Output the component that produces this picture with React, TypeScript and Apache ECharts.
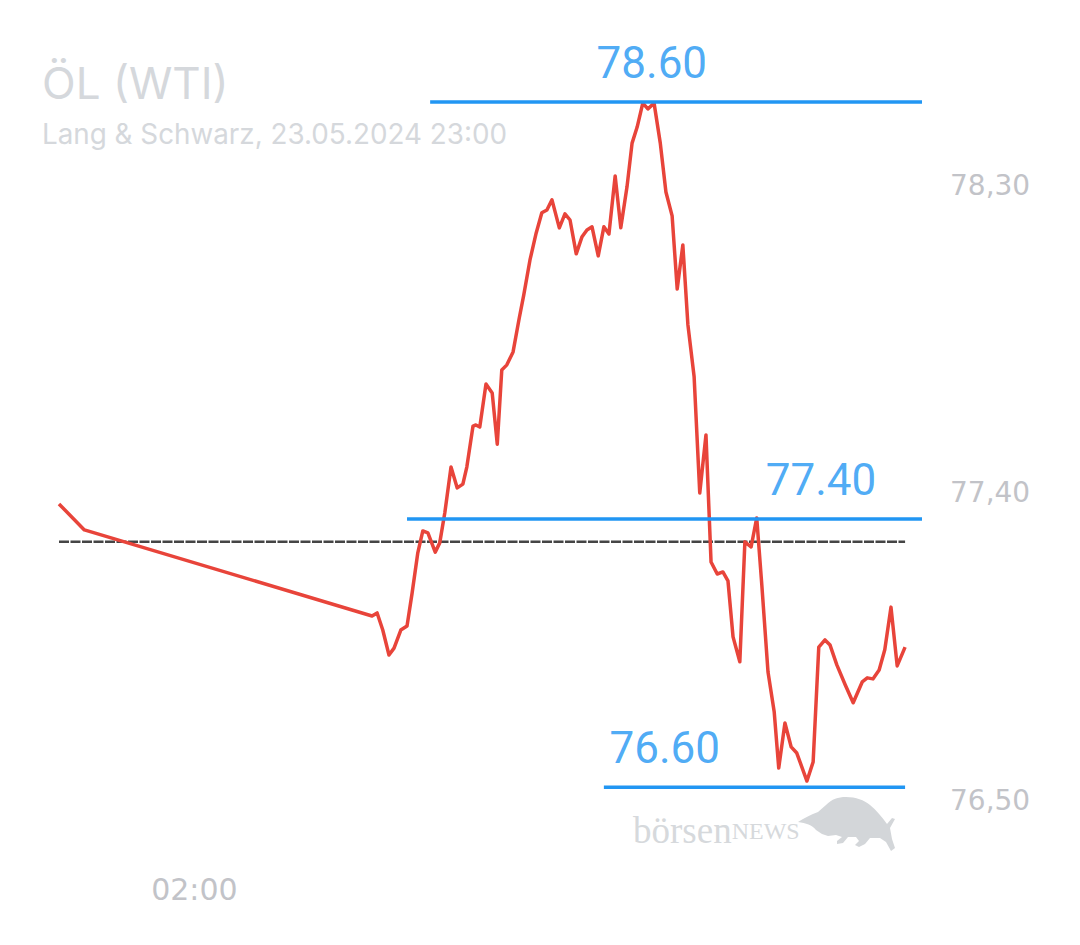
import React, { useEffect, useRef } from 'react';
import * as echarts from 'echarts';

// ---- data ----
const prevDayTimes = ['22:00', '22:45']; // 22.05.2024
const prevDayValues = [77.444, 77.368];

const sessionTimes = [ // 23.05.2024
  '07:15', '07:24', '07:34', '07:45', '07:54', '08:06', '08:17', '08:26', '08:36', '08:45',
  '08:54', '09:07', '09:15', '09:24', '09:35', '09:46', '09:56', '10:03', '10:14', '10:19',
  '10:26', '10:37', '10:48', '10:57', '11:05', '11:14', '11:25', '11:36', '11:44', '11:55',
  '12:06', '12:16', '12:25', '12:34', '12:47', '12:57', '13:06', '13:17', '13:27', '13:36',
  '13:45', '13:56', '14:06', '14:15', '14:26', '14:36', '14:47', '14:56', '15:05', '15:15',
  '15:24', '15:35', '15:46', '15:56', '16:07', '16:16', '16:26', '16:35', '16:46', '16:56',
  '17:07', '17:16', '17:27', '17:37', '17:46', '17:55', '18:07', '18:16', '18:27', '18:37',
  '18:46', '18:57', '19:08', '19:16', '19:27', '19:38', '19:48', '20:06', '20:17', '20:27',
  '20:38', '20:47', '20:59', '21:14', '21:28', '21:44', '21:53', '22:03', '22:14', '22:24',
  '22:35', '22:46', '23:00',
];
const sessionValues = [
  77.116, 77.125, 77.075, 77.002, 77.022, 77.075, 77.087, 77.183, 77.300, 77.365,
  77.359, 77.303, 77.330, 77.418, 77.552, 77.491, 77.502, 77.552, 77.672, 77.675,
  77.669, 77.795, 77.769, 77.619, 77.836, 77.851, 77.889, 77.988, 78.056, 78.158,
  78.237, 78.296, 78.304, 78.334, 78.252, 78.293, 78.275, 78.176, 78.225, 78.246,
  78.255, 78.170, 78.255, 78.234, 78.404, 78.252, 78.372, 78.500, 78.547, 78.617,
  78.600, 78.617, 78.500, 78.357, 78.287, 78.073, 78.202, 77.968, 77.816, 77.476,
  77.646, 77.274, 77.239, 77.245, 77.219, 77.055, 76.982, 77.333, 77.318, 77.403,
  77.207, 76.952, 76.835, 76.671, 76.803, 76.733, 76.715, 76.633, 76.689, 77.025,
  77.046, 77.031, 76.973, 76.914, 76.862, 76.923, 76.935, 76.932, 76.958, 77.017,
  77.142, 76.970, 77.025,
];

const previousClose = 77.333;

const levelValues = [78.62, 77.4, 76.615];
const levelLabels = ['78.60', '77.40', '76.60'];
const levelStarts = ['08:58', '08:17', '14:06'];
const levelEnds = ['23:30', '23:30', '23:00'];
const levelLabelTimes = ['15:31', '20:31', '15:54'];

const yTicks = [76.5, 77.4, 78.3];
const xTickLabels = ['02:00'];

const titleText = 'ÖL (WTI)';
const subtitleText = 'Lang & Schwarz, 23.05.2024 23:00';

const BULL_PATH =
  'M0,25 C6,21 12,18 20,15 L28,8 C34,2 40,0 48,0 C58,0 66,3 72,8 C78,13 84,20 89,27 L94,21 L97,22 L92,31 L94,42 L97,51 L93,54 L88,45 L82,41 L72,41 L67,47 L61,50 L57,48 L61,44 L58,40 L50,40 L45,46 L39,47 L39,44 L44,40 L38,38 L30,39 L24,37 L18,33 C14,28 8,26 0,25 Z';

let bullRegistered = false;

function ts(day: number, hm: string): number {
  const [h, m] = hm.split(':').map(Number);
  return new Date(2024, 4, day, h, m).getTime();
}

function pad(n: number) {
  return n < 10 ? '0' + n : '' + n;
}

export default function App() {
  const ref = useRef<HTMLDivElement>(null);

  useEffect(() => {
    if (!ref.current) return;
    if (!bullRegistered) {
      echarts.graphic.registerShape('bull', echarts.graphic.extendPath(BULL_PATH, {}));
      bullRegistered = true;
    }
    const chart = echarts.init(ref.current, undefined, { renderer: 'svg' });

    const priceData: [number, number][] = [
      ...prevDayTimes.map((t, i) => [ts(22, t), prevDayValues[i]] as [number, number]),
      ...sessionTimes.map((t, i) => [ts(23, t), sessionValues[i]] as [number, number]),
    ];

    const xMin = ts(22, '22:00');
    const lastTime = ts(23, '23:00');

    const levelSeries = levelValues.map((v, i) => ({
      type: 'line',
      name: 'level' + i,
      data: [
        [ts(23, levelStarts[i]), v],
        [ts(23, levelEnds[i]), v],
      ],
      symbol: 'none',
      silent: true,
      z: 4,
      lineStyle: { color: '#2196f3', width: 3.5 },
    }));

    const option: any = {
      animation: false,
      grid: { left: 59, right: 158, top: 40.6, bottom: 118.5, containLabel: false },
      xAxis: {
        type: 'value',
        min: xMin,
        max: ts(23, '23:30'),
        axisLine: { show: false },
        axisTick: { show: false },
        splitLine: { show: false },
        axisLabel: {
          customValues: xTickLabels.map((t) => ts(23, t)),
          formatter: (v: number) => {
            const d = new Date(v);
            return pad(d.getHours()) + ':' + pad(d.getMinutes());
          },
          margin: 48,
          fontSize: 30,
          color: '#c2c3c8',
          fontFamily: 'DejaVu Sans',
        },
      },
      yAxis: {
        type: 'value',
        position: 'right',
        min: 76.5,
        max: 78.8,
        interval: 0.9,
        axisLine: { show: false },
        axisTick: { show: false },
        splitLine: { show: false },
        axisLabel: {
          margin: 28,
          fontSize: 28,
          color: '#c2c3c8',
          fontFamily: 'DejaVu Sans',
          verticalAlign: 'bottom',
          lineHeight: 52,
          formatter: (v: number) => {
            const hit = yTicks.find((t) => Math.abs(t - v) < 1e-6);
            return hit === undefined ? '' : hit.toFixed(2).replace('.', ',');
          },
        },
      },
      series: [
        {
          type: 'line',
          name: 'prevClose',
          data: [
            [xMin, previousClose],
            [lastTime, previousClose],
          ],
          symbol: 'none',
          silent: true,
          z: 2,
          lineStyle: { color: '#454545', width: 2.5, type: [10, 1.5] },
        },
        {
          type: 'line',
          name: 'WTI',
          data: priceData,
          symbol: 'none',
          z: 3,
          lineStyle: { color: '#e8443a', width: 3.5, join: 'round' },
        },
        ...levelSeries,
        {
          type: 'scatter',
          name: 'levelLabels',
          data: levelLabelTimes.map((t, i) => [ts(23, t), levelValues[i]]),
          symbolSize: 0,
          silent: true,
          z: 5,
          label: {
            show: true,
            position: 'top',
            distance: 17,
            formatter: (p: any) => levelLabels[p.dataIndex],
            fontSize: 44,
            fontFamily: 'Roboto',
            color: '#2196f3',
          },
        },
      ],
      graphic: [
        {
          type: 'text',
          left: 42,
          top: 61,
          style: {
            text: titleText,
            fontSize: 44,
            fontFamily: 'Inter',
            fill: '#d5d8dc',
          },
        },
        {
          type: 'text',
          left: 42,
          top: 120,
          style: {
            text: subtitleText,
            fontSize: 27.8,
            fontFamily: 'Inter',
            fill: '#d5d8dc',
          },
        },
        {
          type: 'text',
          x: 633,
          y: 849,
          style: {
            text: '{a|börsen}{b|NEWS}',
            verticalAlign: 'bottom',
            rich: {
              a: { fontSize: 37, fontFamily: 'Liberation Serif', fill: '#d6d9dc', color: '#d6d9dc' },
              b: { fontSize: 24, fontFamily: 'Liberation Serif', fill: '#d6d9dc', color: '#d6d9dc' },
            },
          },
        },
        {
          type: 'bull',
          x: 798,
          y: 797,
          style: { fill: '#d3d6d9' },
        },
      ],
    };

    chart.setOption(option);
    return () => chart.dispose();
  }, []);

  return (
    <div
      ref={ref}
      style={{ position: 'fixed', left: 0, top: 0, width: 1080, height: 945, background: '#fff' }}
    />
  );
}
